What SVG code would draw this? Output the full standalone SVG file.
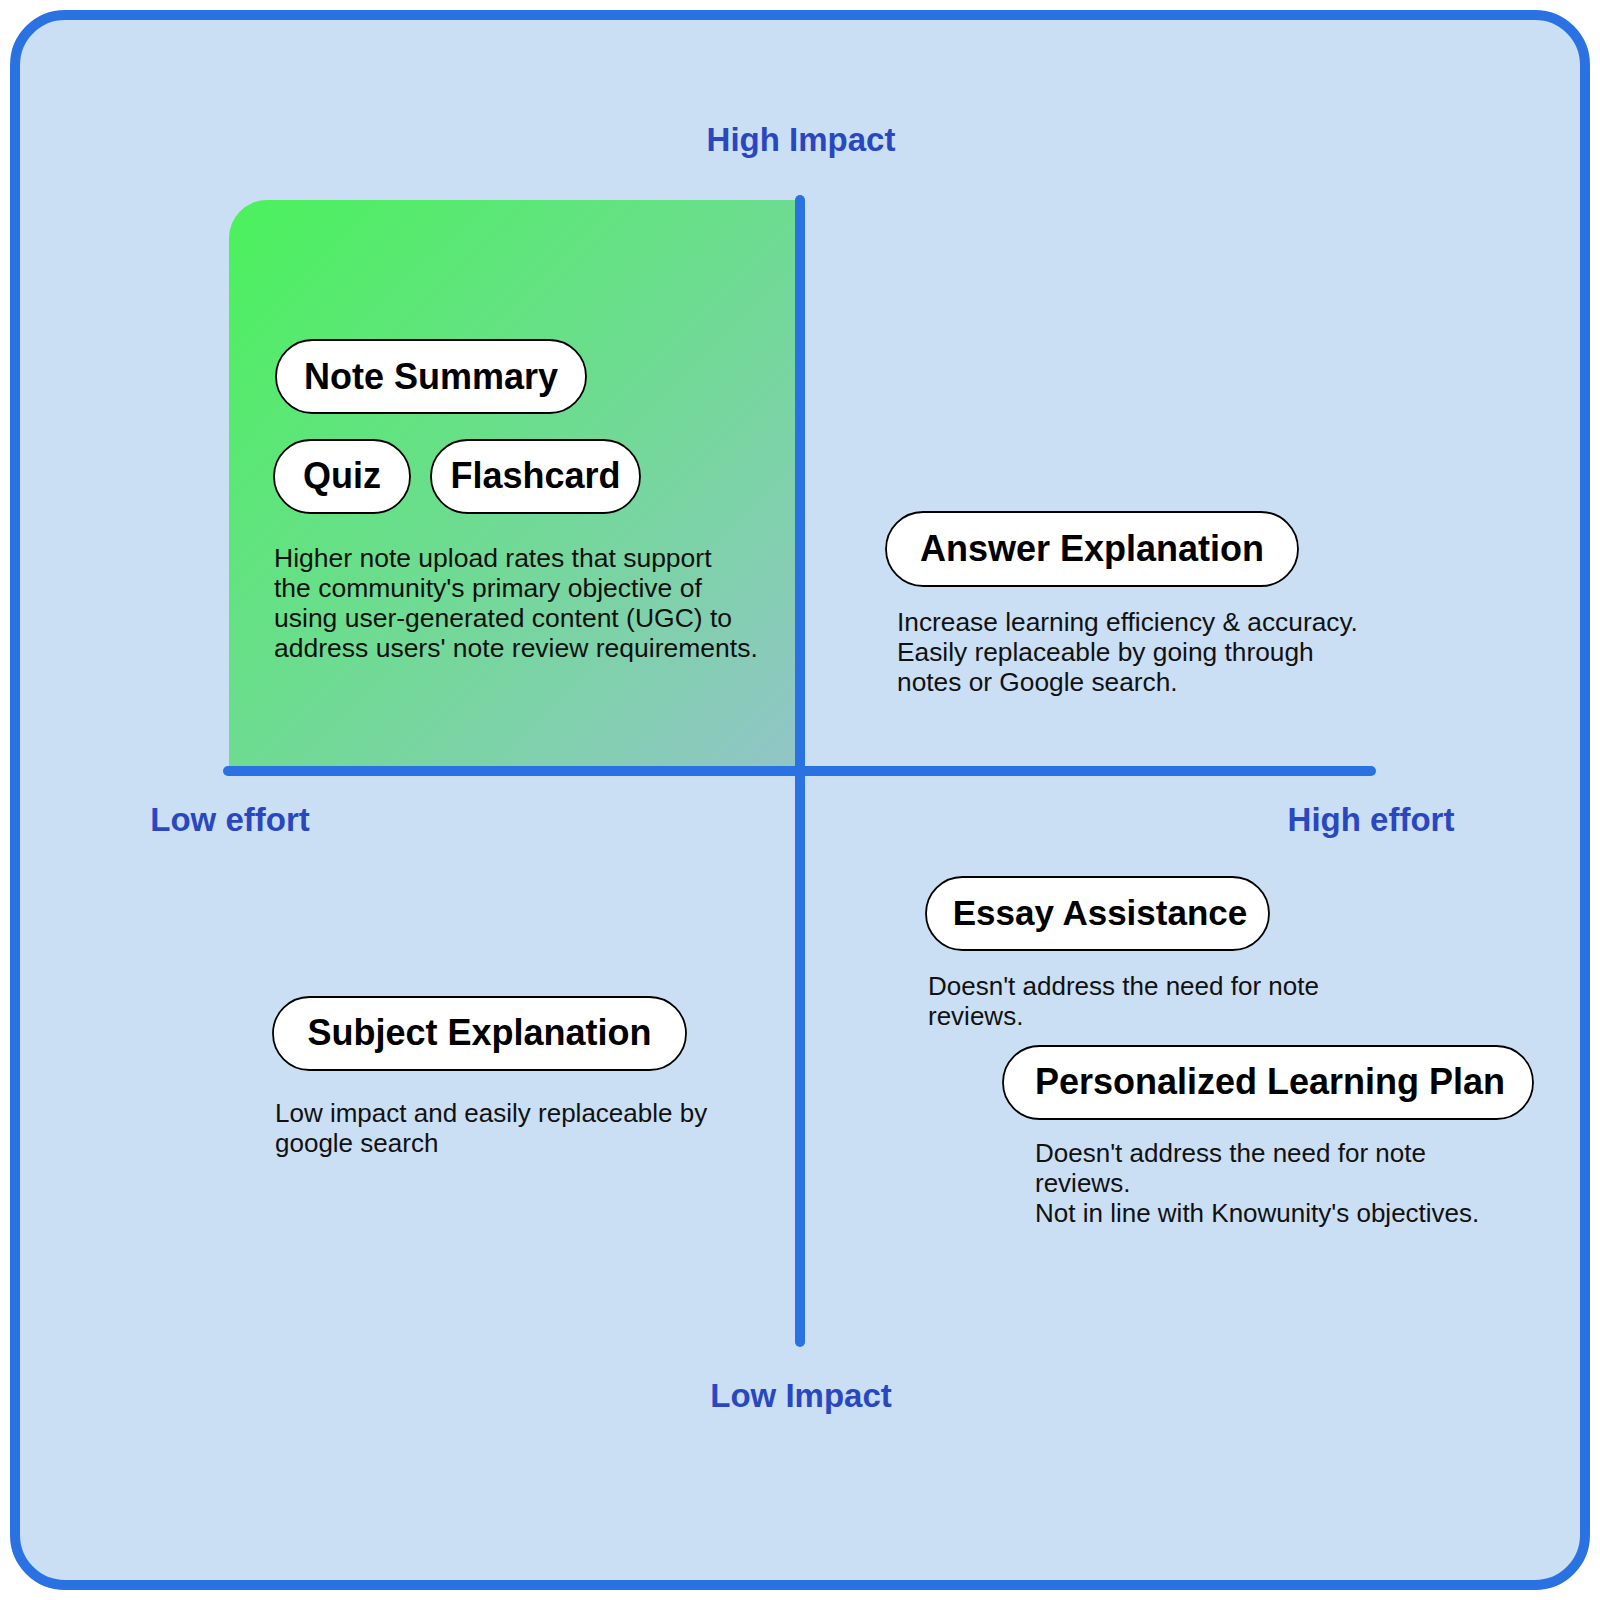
<svg xmlns="http://www.w3.org/2000/svg" width="1600" height="1600" viewBox="0 0 1600 1600">
  <defs>
    <linearGradient id="greenGrad" x1="0" y1="0" x2="1" y2="1">
      <stop offset="0" stop-color="#4AF25B"/>
      <stop offset="1" stop-color="#92C5C8"/>
    </linearGradient>
    <style>
      .axis { stroke: #2A72E2; stroke-width: 10; stroke-linecap: round; fill: none; }
      .axislabel { font-family: "Liberation Sans", Arial, sans-serif; font-weight: bold; font-size: 33px; fill: #2A47C2; text-anchor: middle; }
      .pill { fill: #FFFFFF; stroke: #000000; stroke-width: 1.8; }
      .pilltext { font-family: "Liberation Sans", Arial, sans-serif; font-weight: bold; font-size: 36px; fill: #000000; text-anchor: middle; }
      .body { font-family: "Liberation Sans", Arial, sans-serif; font-size: 26px; fill: #111111; }
    </style>
  </defs>

  <rect x="15" y="15" width="1570" height="1570" rx="50" ry="50" fill="#CADFF3" stroke="#2A72E2" stroke-width="10"/>

  <path d="M229 238 A38 38 0 0 1 267 200 L800 200 L800 771 L229 771 Z" fill="url(#greenGrad)"/>

  <g id="connectors">
    <line class="axis" x1="800" y1="200" x2="800" y2="1342"/>
    <line class="axis" x1="228" y1="771" x2="1371" y2="771"/>
  </g>

  <g id="axis-labels">
    <text class="axislabel" x="801" y="151">High Impact</text>
    <text class="axislabel" x="801" y="1407">Low Impact</text>
    <text class="axislabel" x="230" y="831">Low effort</text>
    <text class="axislabel" x="1371" y="831">High effort</text>
  </g>

  <g id="note-summary">
    <rect class="pill" x="276" y="340" width="310" height="73" rx="36.5"/>
    <text class="pilltext" x="431" y="389">Note Summary</text>
  </g>
  <g id="quiz">
    <rect class="pill" x="274" y="440" width="136" height="73" rx="36.5"/>
    <text class="pilltext" x="342" y="488">Quiz</text>
  </g>
  <g id="flashcard">
    <rect class="pill" x="431" y="440" width="209" height="73" rx="36.5"/>
    <text class="pilltext" x="535.5" y="488">Flashcard</text>
  </g>
  <g id="note-summary-desc">
    <text class="body" x="274" y="567" style="font-size:26.5px">Higher note upload rates that support</text>
    <text class="body" x="274" y="597" style="font-size:26.5px">the community's primary objective of</text>
    <text class="body" x="274" y="627" style="font-size:26.5px">using user-generated content (UGC) to</text>
    <text class="body" x="274" y="657" style="font-size:26.5px">address users' note review requirements.</text>
  </g>

  <g id="answer-explanation">
    <rect class="pill" x="886" y="512" width="412" height="74" rx="37"/>
    <text class="pilltext" x="1092" y="561">Answer Explanation</text>
    <text class="body" x="897" y="631" style="font-size:26.3px">Increase learning efficiency &amp; accuracy.</text>
    <text class="body" x="897" y="661" style="font-size:26.3px">Easily replaceable by going through</text>
    <text class="body" x="897" y="691" style="font-size:26.3px">notes or Google search.</text>
  </g>

  <g id="subject-explanation">
    <rect class="pill" x="273" y="997" width="413" height="73" rx="36.5"/>
    <text class="pilltext" x="479.5" y="1045">Subject Explanation</text>
    <text class="body" x="275" y="1122">Low impact and easily replaceable by</text>
    <text class="body" x="275" y="1152">google search</text>
  </g>

  <g id="essay-assistance">
    <rect class="pill" x="926" y="877" width="343" height="73" rx="36.5"/>
    <text class="pilltext" x="1100" y="925" style="font-size:35px">Essay Assistance</text>
    <text class="body" x="928" y="995">Doesn't address the need for note</text>
    <text class="body" x="928" y="1025">reviews.</text>
  </g>

  <g id="personalized-learning-plan">
    <rect class="pill" x="1003" y="1046" width="530" height="73" rx="36.5"/>
    <text class="pilltext" x="1270" y="1094">Personalized Learning Plan</text>
    <text class="body" x="1035" y="1162">Doesn't address the need for note</text>
    <text class="body" x="1035" y="1192">reviews.</text>
    <text class="body" x="1035" y="1222">Not in line with Knowunity's objectives.</text>
  </g>
</svg>
